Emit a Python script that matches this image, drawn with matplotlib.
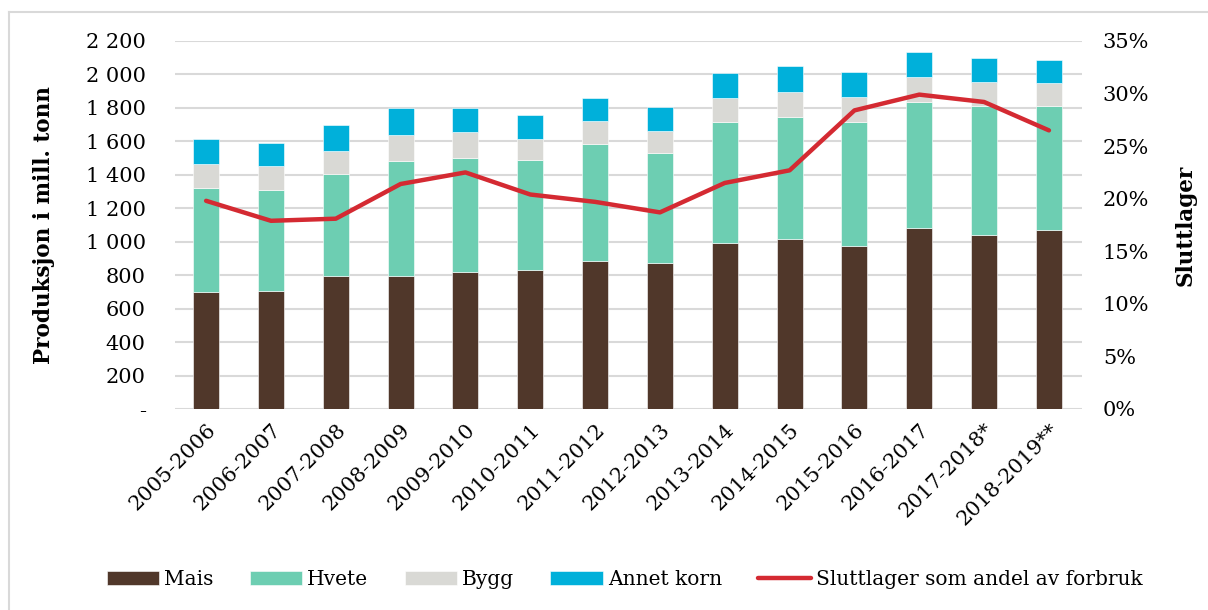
import matplotlib
matplotlib.use("Agg")
import matplotlib.pyplot as plt
from matplotlib.lines import Line2D
from matplotlib.ticker import FuncFormatter, MultipleLocator

plt.rcParams.update({"font.family": "DejaVu Serif", "font.size": 15})

seasons = [
    "2005-2006", "2006-2007", "2007-2008", "2008-2009", "2009-2010",
    "2010-2011", "2011-2012", "2012-2013", "2013-2014", "2014-2015",
    "2015-2016", "2016-2017", "2017-2018*", "2018-2019**",
]
mais = [699, 707, 794, 798, 820, 832, 882, 872, 993, 1017, 977, 1085, 1043, 1071]
hvete = [623, 603, 611, 685, 681, 655, 705, 657, 721, 731, 739, 750, 769, 741]
bygg = [143, 141, 138, 157, 153, 125, 133, 133, 145, 145, 151, 150, 145, 139]
annet = [149, 140, 153, 160, 146, 145, 141, 144, 150, 157, 146, 149, 143, 135]
sluttlager = [19.8, 17.9, 18.1, 21.4, 22.5, 20.4, 19.7, 18.7, 21.5, 22.7, 28.4, 29.9, 29.2, 26.5]

C_MAIS = "#50372a"
C_HVETE = "#6dceb2"
C_BYGG = "#d9d9d5"
C_ANNET = "#00b0da"
C_LINE = "#d42a32"
C_GRID = "#d9d9d9"

fig = plt.figure(figsize=(12.08, 6.10), dpi=100)
ax = fig.add_axes([175 / 1208, 1 - 409 / 610, 907 / 1208, 368 / 610])

x = list(range(len(seasons)))
w = 0.4
b1 = mais
b2 = [a + b for a, b in zip(b1, hvete)]
b3 = [a + b for a, b in zip(b2, bygg)]
kw = dict(width=w, edgecolor="white", linewidth=0.4, zorder=2)
ax.bar(x, mais, color=C_MAIS, label="Mais", **kw)
ax.bar(x, hvete, bottom=b1, color=C_HVETE, label="Hvete", **kw)
ax.bar(x, bygg, bottom=b2, color=C_BYGG, label="Bygg", **kw)
ax.bar(x, annet, bottom=b3, color=C_ANNET, label="Annet korn", **kw)

ax.set_ylim(0, 2200)
ax.set_xlim(-0.48, len(seasons) - 0.49)
ax.yaxis.set_major_locator(MultipleLocator(200))
ax.yaxis.set_major_formatter(
    FuncFormatter(lambda v, _: "-" if v == 0 else f"{v:,.0f}".replace(",", " "))
)
ax.grid(axis="y", color=C_GRID, linewidth=1.5, zorder=0)
ax.set_axisbelow(True)
for s in ax.spines.values():
    s.set_visible(False)
ax.tick_params(axis="both", length=0)
ax.tick_params(axis="y", pad=21)
ax.set_xticks(x)
ax.set_xticklabels(seasons, rotation=45, ha="right", rotation_mode="anchor")
ax.tick_params(axis="x", pad=8)
ax.set_ylabel("Produksjon i mill. tonn", fontweight="bold", fontsize=15.5)
ax.yaxis.set_label_coords(-0.132, 0.5)

ax2 = ax.twinx()
ax2.plot(x, sluttlager, color=C_LINE, linewidth=3.2, solid_capstyle="round",
         solid_joinstyle="round", label="Sluttlager som andel av forbruk", zorder=3)
ax2.set_ylim(0, 35)
ax2.yaxis.set_major_locator(MultipleLocator(5))
ax2.yaxis.set_major_formatter(FuncFormatter(lambda v, _: f"{v:.0f}%"))
for s in ax2.spines.values():
    s.set_visible(False)
ax2.tick_params(axis="y", length=0, pad=15)
ax2.set_ylabel("Sluttlager", fontweight="bold", fontsize=15.5)
ax2.yaxis.set_label_coords(1.1025, 0.5)

h1, l1 = ax.get_legend_handles_labels()
h2, l2 = ax2.get_legend_handles_labels()
fig.legend(h1 + h2, l1 + l2, loc="center", bbox_to_anchor=(0.517, 0.05), ncol=5,
           frameon=False, fontsize=14.5, handlelength=2.6, handleheight=0.65,
           handletextpad=0.25, columnspacing=1.8)

# light frame on top and left, as in the source
fig.add_artist(Line2D([9 / 1208, 9 / 1208], [0, 1 - 12 / 610], color=C_GRID, linewidth=1.5))
fig.add_artist(Line2D([9 / 1208, 1], [1 - 12 / 610, 1 - 12 / 610], color=C_GRID, linewidth=1.5))

fig.savefig("out.png", dpi=100)
